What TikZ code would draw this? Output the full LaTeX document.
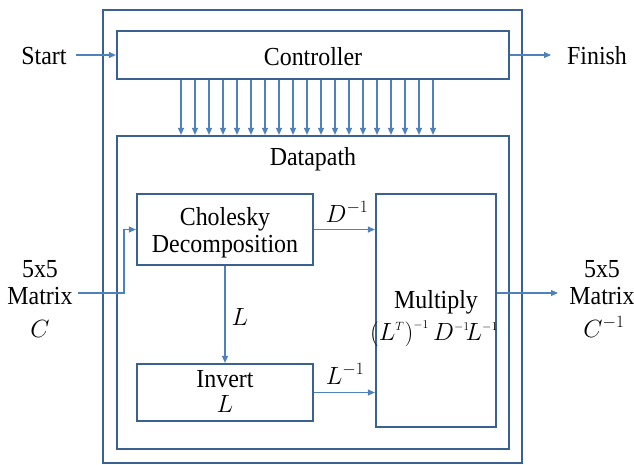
\documentclass[tikz,border=0pt]{standalone}
\usepackage{fontspec}
\setmainfont[FakeStretch=0.92]{Liberation Serif}
\usetikzlibrary{arrows.meta}
\definecolor{boxblue}{HTML}{3B6192}
\definecolor{wireblue}{HTML}{4F81BD}
\newcommand{\sss}[1]{{\scriptscriptstyle #1}}
\tikzset{
  blk/.style={draw=boxblue, line width=2.2pt, rectangle, inner sep=0pt},
  sig/.style={draw=wireblue, line width=1.1pt, -{Triangle[length=7pt,width=6pt]}},
  txt/.style={anchor=base, inner sep=0pt, font=\fontsize{26}{28}\selectfont},
  mth/.style={anchor=base, inner sep=0pt, font=\fontsize{24}{26}\selectfont},
}
\begin{document}
\begin{tikzpicture}[x=1pt, y=-1pt]
\useasboundingbox (0,0) rectangle (634,464);

% enclosing system box
\node[blk, minimum width=419pt, minimum height=453pt] (sys) at (312.5,236.5) {};

% controller
\node[blk, minimum width=392pt, minimum height=48pt] (ctrl) at (313,55) {};
\node[txt] (ctrltxt) at (313,65) {Controller};

% datapath
\node[blk, minimum width=392pt, minimum height=313pt] (dp) at (313,292.5) {};
\node[txt] (dptxt) at (313,165) {Datapath};

% processing blocks
\node[blk, minimum width=176pt, minimum height=71pt] (chol) at (225,229.5) {};
\node[txt] (choltxt1) at (225,225) {Cholesky};
\node[txt] (choltxt2) at (225,252) {Decomposition};

\node[blk, minimum width=176pt, minimum height=57pt] (inv) at (225,392.5) {};
\node[txt] (invtxt1) at (225,387) {Invert};
\node[mth] (invtxt2) at (225,412) {$L$};

\node[blk, minimum width=120pt, minimum height=233pt] (mul) at (436,310.5) {};
\node[txt] (multxt1) at (436,308) {Multiply};
\node[anchor=base, inner sep=0pt, font=\fontsize{23}{25}\selectfont] (multxt2) at (434,340)
  {$\left(L^{\sss{T}}\right)^{\sss{-1}} D^{\sss{-1}}\!L^{\sss{-1}}$};

% start / finish
\node[txt] (start) at (44,64) {Start};
\node[txt] (finish) at (597,64) {Finish};
\draw[sig] (start.east |- ctrl.west) ++(9pt,0) -- (ctrl.west);
\coordinate (finend) at (551,55);
\draw[sig] (ctrl.east) -- (finend);

% control lines
\foreach \i in {0,...,18}
  \draw[sig] ([xshift=\i*14pt-132pt]ctrl.south) -- ([xshift=\i*14pt-132pt]dp.north);

% input matrix
\node[txt] (in1) at (40,277) {5x5};
\node[txt] (in2) at (40,304) {Matrix};
\node[mth] (in3) at (40,337) {$C$};
\coordinate (instart) at (78,293);
\coordinate (inbend) at (124,293);
\draw[sig] (instart) -- (inbend) |- (chol.west);

% output matrix
\node[txt] (out1) at (602,277) {5x5};
\node[txt] (out2) at (602,304) {Matrix};
\node[mth] (out3) at (604,337) {$C^{-1}$};
\coordinate (outend) at (558,293);
\draw[sig] (mul.east |- outend) -- (outend);

% internal data flow
\draw[sig] (chol.east) -- (chol.east -| mul.west);
\node[mth] (dlab) at (347,222) {$D^{-1}$};
\draw[sig] (chol.south) -- (inv.north);
\node[mth] (llab) at (240,325) {$L$};
\draw[sig] (inv.east) -- (inv.east -| mul.west);
\node[mth] (linvlab) at (345,384) {$L^{-1}$};
\end{tikzpicture}
\end{document}
